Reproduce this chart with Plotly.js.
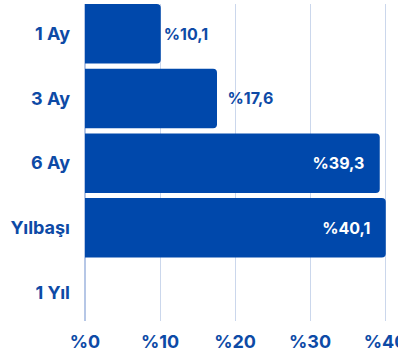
<!DOCTYPE html>
<html><head><meta charset="utf-8">
<script src="https://cdn.plot.ly/plotly-3.0.1.min.js"></script>
<style>html,body{margin:0;padding:0;background:#fff;overflow:hidden}</style>
</head><body><div id="chart" style="width:398px;height:358px"></div>
<script>
const categories = ['1 Ay', '3 Ay', '6 Ay', 'Yılbaşı', '1 Yıl'];
const values = [10.1, 17.6, 39.3, 40.1, null];
const xTickValues = [0, 10, 20, 30, 40];
const xTickLabels = ['%0', '%10', '%20', '%30', '%40'];

const blue = '#0048ab';
const textBlue = '#0d4aa6';
const fontFam = 'Inter, Roboto, "DejaVu Sans", sans-serif';

const positions = values.map(v => v === null ? 'none' : (v > 30 ? 'inside' : 'outside'));
const labels = values.map((v, i) => {
  if (v === null) return '';
  const s = '%' + v.toFixed(1).replace('.', ',');
  if (positions[i] === 'inside') return s + '\u00a0\u00a0\u00a0';
  if (i === 1) return '\u00a0\u00a0' + s;
  return s;
});

const trace = {
  type: 'bar',
  orientation: 'h',
  y: categories,
  x: values,
  marker: { color: blue, cornerradius: 4 },
  text: labels,
  textposition: positions,
  insidetextanchor: 'end',
  insidetextfont: { color: '#ffffff', size: 16, family: fontFam, weight: 700 },
  outsidetextfont: { color: textBlue, size: 16, family: fontFam, weight: 700 },
  cliponaxis: false,
  hoverinfo: 'none'
};

const layout = {
  width: 398, height: 358,
  margin: { l: 85, r: 10, t: 4, b: 37, pad: 0 },
  paper_bgcolor: '#ffffff', plot_bgcolor: '#ffffff',
  showlegend: false,
  bargap: 0.08,
  font: { family: fontFam, color: textBlue },
  xaxis: {
    range: [0, 40.4],
    tickvals: xTickValues, ticktext: xTickLabels,
    tickfont: { size: 18, family: fontFam, color: textBlue, weight: 700 },
    ticklabeloverflow: 'allow',
    showgrid: true, gridcolor: '#cbd7ec', gridwidth: 1,
    zeroline: true, zerolinecolor: '#b6c7e6', zerolinewidth: 1.5,
    showline: false, ticks: '', ticklabelstandoff: 8,
    automargin: false, fixedrange: true
  },
  yaxis: {
    type: 'category',
    categoryorder: 'array', categoryarray: categories,
    range: [4.44, -0.46],
    tickfont: { size: 18, family: fontFam, color: textBlue, weight: 700 },
    showgrid: false, zeroline: false, showline: false,
    ticks: '', ticklabelstandoff: 14,
    automargin: false, fixedrange: true
  }
};

Plotly.newPlot('chart', [trace], layout, { displayModeBar: false, staticPlot: true });
</script>
</body></html>
